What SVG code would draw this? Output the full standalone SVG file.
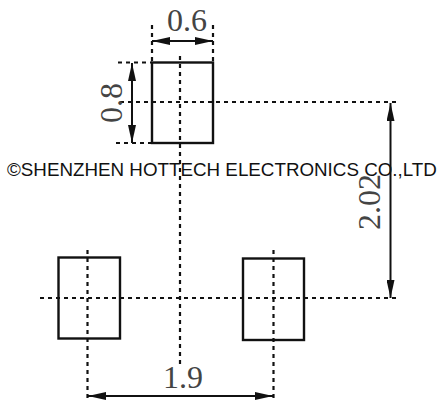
<svg xmlns="http://www.w3.org/2000/svg" width="440" height="403" viewBox="0 0 440 403">
<style>
.pad{fill:none;stroke:#111;stroke-width:2.4}
.dash{fill:none;stroke:#111;stroke-width:2.2;stroke-dasharray:4 4}
.dim{fill:none;stroke:#111;stroke-width:2;marker-start:url(#a);marker-end:url(#a)}
.num{font-family:"Liberation Serif",serif;font-size:32px;fill:#444;text-anchor:middle}
.mark{font-family:"Liberation Sans",Arial,sans-serif;font-size:18.8px;fill:#111}
</style>
<defs>
<marker id="a" viewBox="0 0 18 8" refX="18" refY="4" markerUnits="userSpaceOnUse" markerWidth="18" markerHeight="8" orient="auto-start-reverse"><path d="M18 4L0 0V8Z" fill="#111"/></marker>
</defs>
<g id="connectors">
<path class="dash" d="M152 25V62M213 25V62M118 62.5H152M116 143H152M120 102H400M180 56V366M87.5 250V400M273.5 250V400M40 298H400"/>
<path class="dim" d="M152 41H213"/>
<path class="dim" d="M132 63V143"/>
<path class="dim" d="M390.5 103V298"/>
<path class="dim" d="M88 396H273"/>
</g>
<g id="pad-top"><rect class="pad" x="152" y="62.5" width="61" height="80.5"/></g>
<g id="pad-left"><rect class="pad" x="58.5" y="257.5" width="61.5" height="81"/></g>
<g id="pad-right"><rect class="pad" x="243" y="258.5" width="61" height="81.5"/></g>
<g id="labels">
<text class="num" x="187" y="31">0.6</text>
<text class="num" transform="translate(122 103) rotate(-90)">0.8</text>
<text class="num" x="183" y="388">1.9</text>
<text class="num" transform="translate(380 202) rotate(-90)">2.02</text>
<text class="mark" x="7" y="176">©SHENZHEN HOTTECH ELECTRONICS CO.,LTD</text>
</g>
</svg>
